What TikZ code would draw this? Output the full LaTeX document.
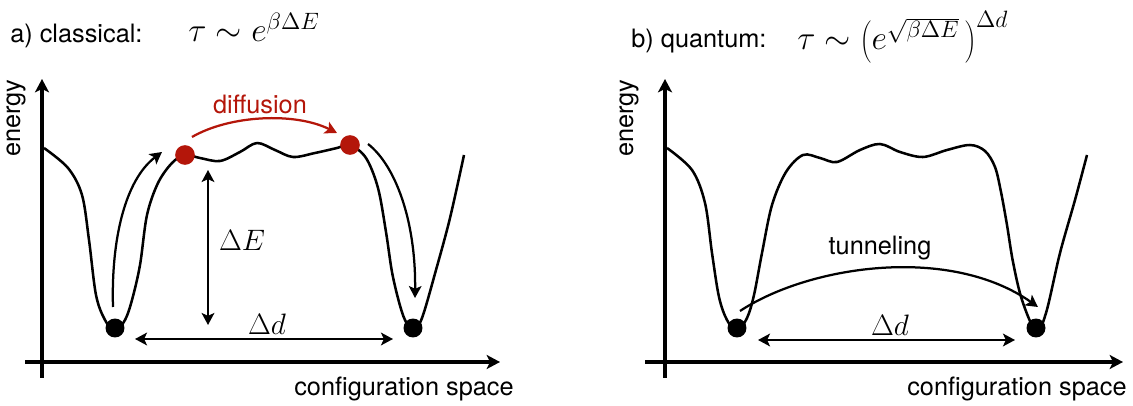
\documentclass[tikz,border=0pt]{standalone}
\usepackage{fix-cm}
\usepackage[no-math]{fontspec}
\setmainfont{TeX Gyre Heros}
\usetikzlibrary{arrows.meta}
\definecolor{diffred}{RGB}{180,22,10}
\tikzset{
  axis/.style={line width=2.5pt, -{Stealth[length=9.5pt,width=10pt,inset=2.5pt]}},
  curve/.style={line width=1.8pt, line join=round},
  arr/.style={line width=1.6pt, -{Stealth[length=8.5pt,width=9pt,inset=2pt]}},
  darr/.style={line width=1.6pt, {Stealth[length=8.5pt,width=9pt,inset=2pt]}-{Stealth[length=8.5pt,width=9pt,inset=2pt]}},
  ball/.style={circle, fill=black, inner sep=0pt, minimum size=13.5pt},
  redball/.style={ball, fill=diffred, minimum size=14pt},
  lbl/.style={font=\fontsize{18}{21}\selectfont, inner sep=0pt},
  mth/.style={font=\fontsize{24}{28}\selectfont, inner sep=0pt},
  dlbl/.style={font=\fontsize{21}{25}\selectfont, inner sep=0pt},
}
\begin{document}
\begin{tikzpicture}[x=0.025cm, y=-0.025cm]
    \useasboundingbox (0,0) rectangle (1133,406);

    % Titles
    \node[lbl, anchor=base west] (titleA) at (10,43) {a) classical:};
    \node[mth, anchor=base west] (formA) at (188,42) {$\tau \sim e^{\beta\Delta E}$};
    \node[lbl, anchor=base west] (titleB) at (631,48) {b) quantum:};
    \node[mth, anchor=base west] (formB) at (797,50) {$\tau \sim \left(e^{\sqrt{\beta\Delta E}}\,\right)^{\Delta d}$};

    % a) Axes
    \draw[axis] (42,378) -- (42,79);
    \draw[axis] (25,362) -- (500,362);
    \node[lbl, rotate=90] (enA) at (16,118) {energy};
    \node[lbl] (csA) at (404,389) {configuration space};

    % a) Potential
    \draw[curve] plot[smooth, tension=0.55] coordinates {
      (44,148) (68,168) (82,195) (89,240) (96,295) (105,320) (115,331)
      (125,320) (132,300) (140,265) (147,215) (158,183) (172,163) (185,155)
      (200,158) (220,161) (240,152) (257,143) (275,150) (293,157) (315,153)
      (337,148) (350,145) (366,158) (378,188) (386,232) (392,272) (399,302)
      (405,320) (413,331) (422,318) (436,270) (450,218) (464,155)};
    \node[ball] (aL) at (115,328) {};
    \node[ball] (aR) at (413,328) {};
    \node[redball] (aTL) at (185,155) {};
    \node[redball] (aTR) at (350,145) {};

    % a) Arrows
    \coordinate (upS) at (113,307);   \coordinate (upE) at (162,152);
    \coordinate (dnS) at (368,144);   \coordinate (dnE) at (415,298);
    \coordinate (dfS) at (192,137);   \coordinate (dfE) at (337,133);
    \coordinate (dEt) at (208,170);   \coordinate (dEb) at (208,325);
    \coordinate (ddAl) at (135,339);  \coordinate (ddAr) at (393,339);
    \draw[arr] (upS) .. controls (111,240) and (125,180) .. (upE);
    \draw[arr] (dnS) .. controls (395,165) and (416,220) .. (dnE);
    \draw[arr, diffred] (dfS) .. controls (230,115) and (295,112) .. (dfE);
    \draw[darr] (dEt) -- (dEb);
    \draw[darr] (ddAl) -- (ddAr);
    \node[lbl, text=diffred] (diff) at (260,104) {diffusion};
    \node[dlbl] (dEl) at (242,240) {$\Delta E$};
    \node[dlbl] (ddAlbl) at (267,324) {$\Delta d$};

    % b) Axes
    \draw[axis] (665,378) -- (665,79);
    \draw[axis] (645,362) -- (1123,362);
    \node[lbl, rotate=90] (enB) at (629,118) {energy};
    \node[lbl] (csB) at (1017,389) {configuration space};

    % b) Potential
    \draw[curve] plot[smooth, tension=0.55] coordinates {
      (667,148) (692,170) (705,203) (712,253) (719,297) (727,320) (737,331)
      (747,318) (754,295) (762,253) (772,205) (786,172) (803,155)
      (820,158) (837,162) (860,150) (880,144) (900,152) (923,157)
      (947,150) (970,145) (985,151) (995,167) (1001,192) (1007,225)
      (1013,262) (1022,300) (1036,331) (1046,313) (1060,253) (1075,200) (1087,155)};
    \node[ball] (bL) at (737,328) {};
    \node[ball] (bR) at (1036,328) {};

    % b) Arrows
    \coordinate (tnS) at (740,311);   \coordinate (tnE) at (1038,307);
    \coordinate (ddBl) at (758,340);  \coordinate (ddBr) at (1015,340);
    \draw[arr] (tnS) .. controls (810,265) and (950,245) .. (tnE);
    \draw[darr] (ddBl) -- (ddBr);
    \node[lbl] (tun) at (880,248) {tunneling};
    \node[dlbl] (ddBlbl) at (890,325) {$\Delta d$};
\end{tikzpicture}
\end{document}
